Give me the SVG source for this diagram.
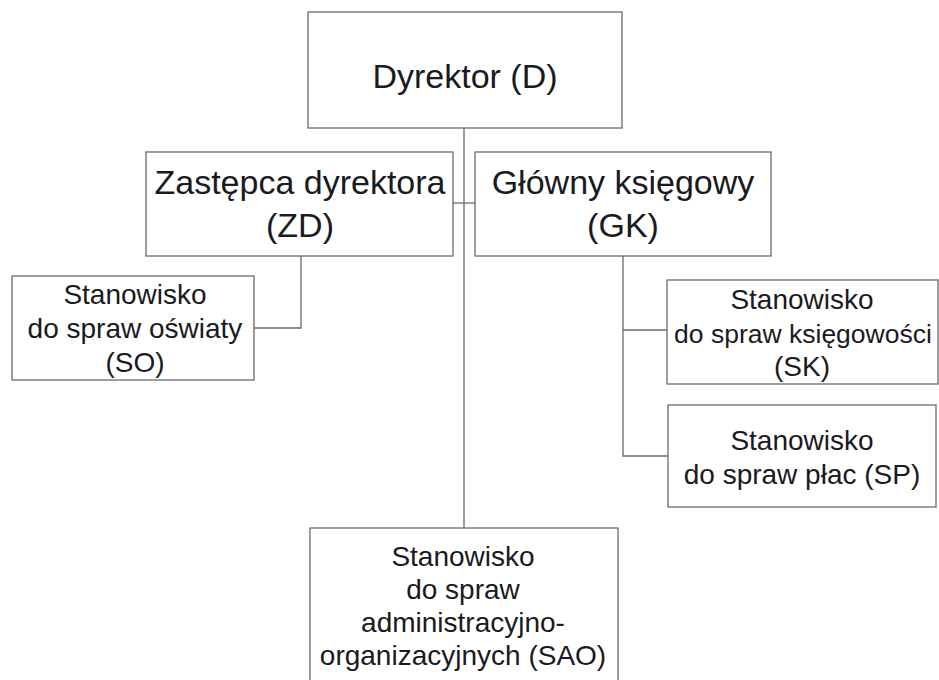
<svg xmlns="http://www.w3.org/2000/svg" width="939" height="680" viewBox="0 0 939 680">
<style>
.box{fill:#fff;stroke:#6a6a6a;stroke-width:1.3}
.ln{fill:none;stroke:#6a6a6a;stroke-width:1.3}
text{font-family:"Liberation Sans",Arial,sans-serif;fill:#1a1a22;text-anchor:middle}
.big{font-size:34px}
.sm{font-size:28px}
</style>
<rect width="939" height="680" fill="#fff"/>
<g id="connectors">
<path class="ln" d="M464 128V528"/>
<path class="ln" d="M453 203H475"/>
<path class="ln" d="M301 256V328H254"/>
<path class="ln" d="M623 256V456H668M623 330H667"/>
</g>
<g id="D"><rect class="box" x="308" y="12" width="314" height="116"/><text class="big" x="465" y="88">Dyrektor (D)</text></g>
<g id="ZD"><rect class="box" x="146" y="152" width="307" height="104"/><text class="big" x="300" y="194">Zastępca dyrektora</text><text class="big" x="300" y="237">(ZD)</text></g>
<g id="GK"><rect class="box" x="475" y="152" width="296" height="104"/><text class="big" x="623" y="194">Główny księgowy</text><text class="big" x="623" y="237">(GK)</text></g>
<g id="SO"><rect class="box" x="12" y="276" width="242" height="104"/><text class="sm" x="135" y="304">Stanowisko</text><text class="sm" x="135" y="338">do spraw oświaty</text><text class="sm" x="135" y="372">(SO)</text></g>
<g id="SK"><rect class="box" x="667" y="280" width="271" height="104"/><text class="sm" x="802" y="309">Stanowisko</text><text class="sm" x="803" y="343" style="font-size:26.5px">do spraw księgowości</text><text class="sm" x="802" y="376">(SK)</text></g>
<g id="SP"><rect class="box" x="668" y="405" width="268" height="102"/><text class="sm" x="802" y="450">Stanowisko</text><text class="sm" x="802" y="484">do spraw płac (SP)</text></g>
<g id="SAO"><rect class="box" x="310" y="528" width="308" height="170"/><text class="sm" x="463" y="566">Stanowisko</text><text class="sm" x="463" y="599">do spraw</text><text class="sm" x="463" y="632">administracyjno-</text><text class="sm" x="463" y="665">organizacyjnych (SAO)</text></g>
</svg>
